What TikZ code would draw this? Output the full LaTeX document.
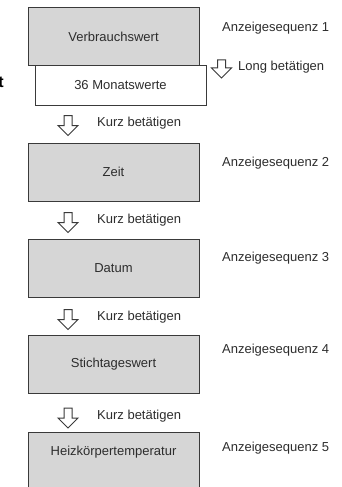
\documentclass[tikz,border=0pt]{standalone}
\usepackage{fontspec}
\setmainfont{Liberation Sans}
\usetikzlibrary{shapes.arrows}
\definecolor{boxgray}{RGB}{214,214,214}
\definecolor{linegray}{RGB}{58,58,58}
\definecolor{txtgray}{RGB}{45,45,45}
\begin{document}
\begin{tikzpicture}[x=1pt,y=1pt,yscale=-1,
	every node/.style={font=\fontsize{13}{15}\selectfont, text=txtgray, inner sep=0pt},
	anzeigebox/.style={draw=linegray, line width=1pt, fill=boxgray, minimum width=171pt, minimum height=58pt},
	pfeil/.style={single arrow, draw=linegray, line width=1pt, fill=white, shape border rotate=270, inner sep=3.5pt, minimum width=19pt, minimum height=20pt, single arrow head extend=6pt},
	seqlabel/.style={anchor=west}]
	\clip (0,0) rectangle (341,487);
	\fill[white] (0,0) rectangle (341,487);
	%Shape: Rectangle [Verbrauchswert]
	\node[anzeigebox] (verbrauch) at (113.5,37) {Verbrauchswert};
	%Shape: Rectangle [36 Monatswerte]
	\node[anzeigebox, fill=white, minimum width=171pt, minimum height=39pt] (monat) at (120.5,85.5) {36 Monatswerte};
	\node[anchor=east, font=\fontsize{16}{18}\bfseries, text=black] (rest) at (4,82) {t};
	%Shape: Rectangle [Zeit]
	\node[anzeigebox] (zeit) at (113.5,172) {Zeit};
	%Shape: Rectangle [Datum]
	\node[anzeigebox] (datum) at (113.5,268) {Datum};
	%Shape: Rectangle [Stichtageswert]
	\node[anzeigebox] (stichtag) at (113.5,364) {Stichtageswert};
	%Shape: Rectangle [Heizkoerpertemperatur]
	\node[anzeigebox] (heiz) at (113.5,461) {};
	\node (heiztext) at (113.5,452) {Heizkörpertemperatur};
	% Anzeigesequenzen
	\node[seqlabel] (seq1) at (222,28) {Anzeigesequenz 1};
	\node[seqlabel] (seq2) at (222,163) {Anzeigesequenz 2};
	\node[seqlabel] (seq3) at (222,258) {Anzeigesequenz 3};
	\node[seqlabel] (seq4) at (222,350) {Anzeigesequenz 4};
	\node[seqlabel] (seq5) at (222,448) {Anzeigesequenz 5};
	% Pfeile
	\node[pfeil, minimum height=18pt] (long) at (221.5,67) {};
	\node[seqlabel] (longtext) at (238,67) {Long betätigen};
	\foreach \name/\ypos in {kurzA/123.5,kurzB/220.5,kurzC/317.5,kurzD/416}{
		\node[pfeil] (\name) at (68,\ypos) {};
		\node[seqlabel] (\name text) at (97,\ypos) {Kurz betätigen};
	}
\end{tikzpicture}
\end{document}
